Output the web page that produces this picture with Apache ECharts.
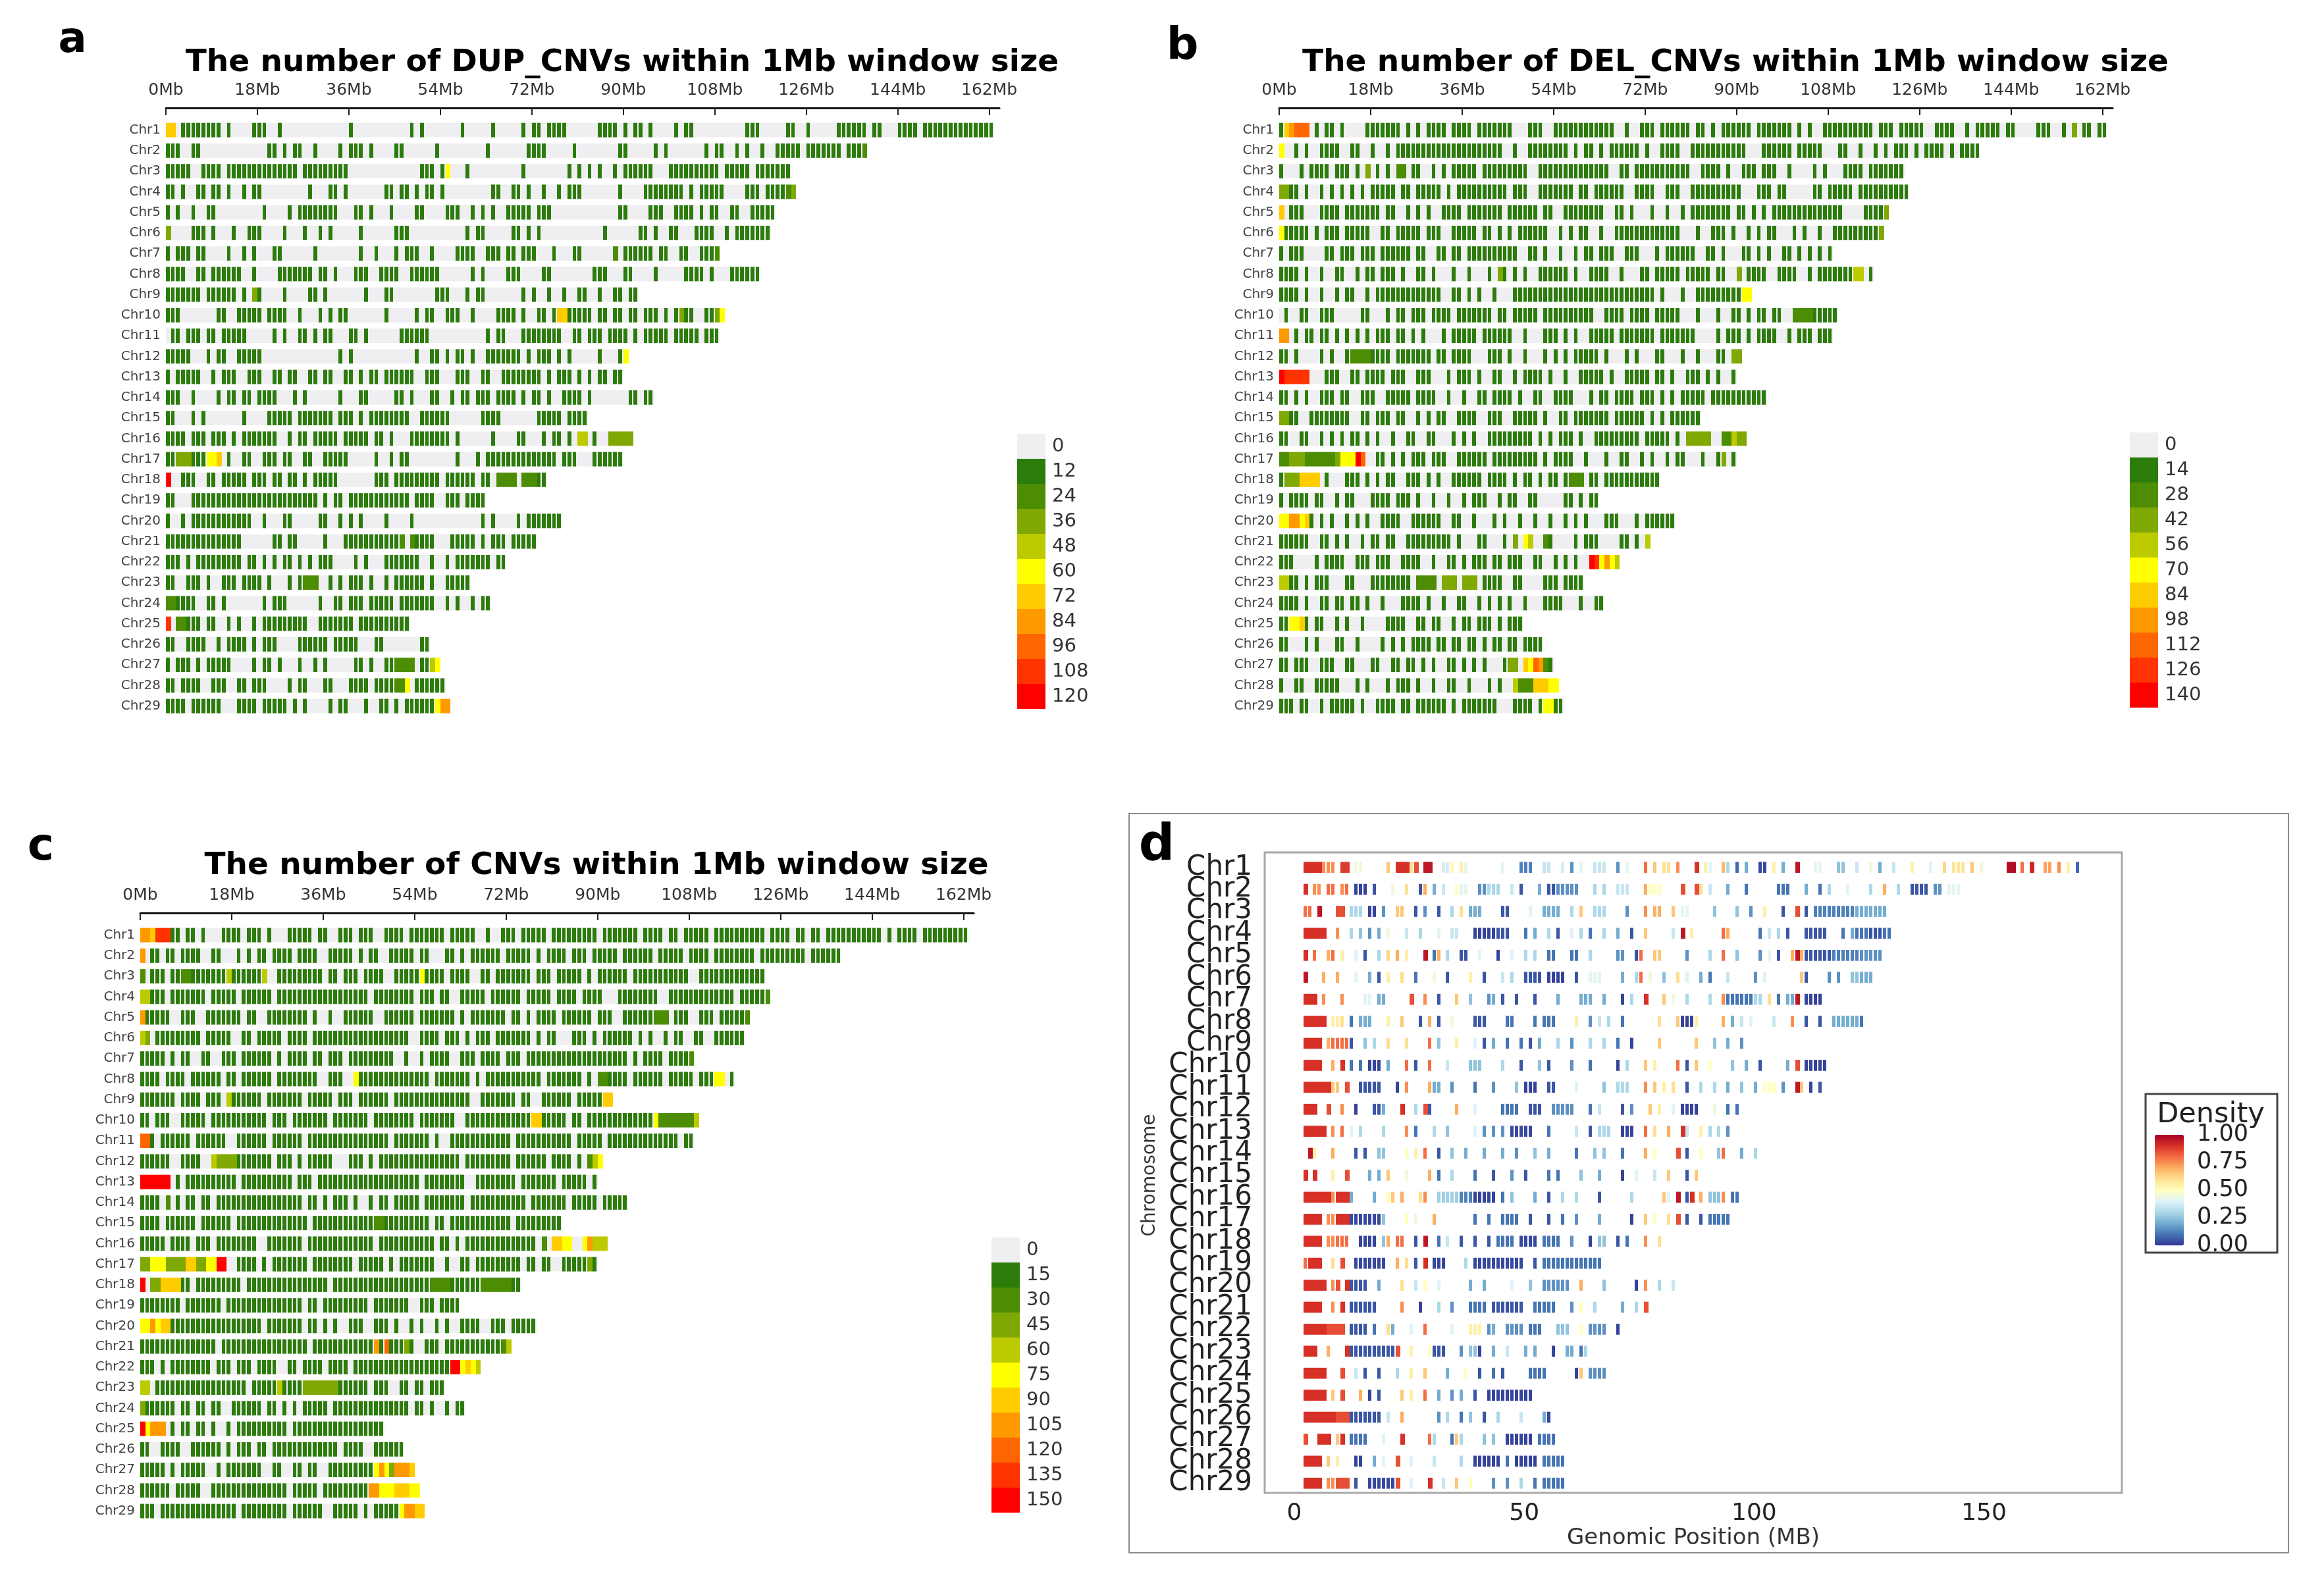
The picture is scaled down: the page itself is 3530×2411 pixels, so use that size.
<!DOCTYPE html>
<html>
<head>
<meta charset="utf-8">
<title>CNV density</title>
<script src="https://cdn.jsdelivr.net/npm/echarts@6/dist/echarts.min.js"></script>
<style>
html,body{margin:0;padding:0;background:#fff;}
#chart{width:3530px;height:2411px;}
</style>
</head>
<body>
<div id="chart"></div>
<script>
var chrNames = [];
for (var n = 1; n <= 29; n++) chrNames.push('Chr' + n);
var chrLengths = [163,138,123,124,120,119,109,117,93,110,109,91,90,96,83,92,90,75,63,78,73,67,60,64,48,52,54,55,56];
var mbTicks = [0,18,36,54,72,90,108,126,144,162];
var genomeTicks = [0,50,100,150];
var greenRamp = ['#2c7c0c','#4c8d04','#7fa802','#bccb00','#ffff00','#ffcc00','#ff9900','#ff6600','#ff3300','#ff0000'];
var densityRamp = ['#313695','#4575b4','#74add1','#abd9e9','#e0f3f8','#ffffbf','#fee090','#fdae61','#f46d43','#d73027','#a50026'];

// windows with CNVs per chromosome: "from-to:level", level is the colour class, 1 when left out
var dupCells = [
"0-1:6 3 4 5-9 10 12 17 18 19 22 36 48 50 58 64 70 72-73 75 76-78 85 86 87-88 90 92-93 95 100 102 103 114-115 116 122 123 126 132-133 134 135-137 139-140 144 145 146 147 149 150-151 152 153 154 155-159 160-161 162",
"0 1-2 5-6 20-21 23 25-26 29 34 36 37-38 40 45-46 53 63 71-74 80 89-90 96 98 106 108-109 112 114 117 120-124 126-128 129-130 131 132 134 135 136 137:2",
"0 1 2 3-4 7-10 12-25 27-35 50-52 54 55:5 59 70 79 81 83 85 88 90-92 93-95 99-101 102-104 105-108 110-113 114 116 117-118 119-120 121-122",
"0-1 3 6-7 9-10 12 15 17-18 28 32-33 35 43 44 46 47 49 51-52 54 64 65 68-69 71 74 77 79-80 81 89 94-99 100-101 103 105-109 114 115 116 118 119 120 121 122:2 123:3",
"0 2 5 8 9 19 24 26-33 37 38 40 44 49 50 55-57 60 62 64 67-71 73-75 89 90 95-97 100-101 102-103 105 107-108 111-112 115 116-117 118 119",
"0:3 5 6-7 9 13 16-18 23 27 30 32 38 45-47 59 61-62 68 69 71 73 86 93 94 96 99 100 104 105 106 107 110 112 113-116 117 118",
"0 2-4 6 7 12 15 17 21 22 29 38 41 45 47-49 52 57-60 63-65 67 68 70-72 76 80 81 88:2 90-95 97 98 101 102 105-107 108:2",
"0-3 6-7 9-11 12 13-14 17 22 23 24 25-28 30-31 33 37-38 39 42-45 48-50 51-53 60 62 67 68 69 74 75 84 85 86 90-91 96 102-104 105 107 111-112 113-115 116",
"0-1 2-5 6 8-11 12 13 15 17:3 18 23 28-29 31 39 43-44 53 54 55 59 61-62 70 72 75 78 81-82 85 88-89 91 92",
"0-1 2 10 11 14 15-18 20-22 23 26 30 32 34-35 43 49 51-52 55-57 60 65-67 68 70 73 74 76 77-78:6 79-83 85-86 88-89 91-92 94-96 98 100 101:3 102-103 106-107 108:3 109:5",
"1-2 4 5-6 8-9 11-13 14-15 21 23 26-27 29 31-32 36 37 39 46-48 49-51 63 65 66 70-77 80-81 83-85 87-90 92 94-98 100-104 106 107-108",
"0-2 3 4 8 10-11 14 15-18 34 36 49 52-53 55 57-58 60 63 64 65 66-69 71 73-75 77 79 85 89 90:5",
"0 2-6 9 11 12-13 16-18 21-22 24 25 28 29 31-32 35 36 38 40-41 43-45 46 47 48 51-53 57-59 62-63 66-73 75 77 78-79 81 83 85 86 88 89",
"0-2 5 10 12-13 15-16 18 19 20 21 25 27 34 38-39 45 46 48 52 53 56 58-59 61-63 65-66 67 68 70 72-73 75 78-81 83 91-92 94 95",
"0-1 5 7 15 20 21-24 26-32 34-35 36 38 40-44 45-47 50-53 54-55 62-65 73-77 79-82",
"0-3 5-7 9-11 13 15-16 17-21 24 26-27 29-31 32-33 35-39 41 42 44 48-55 57 64 69 70 74 76-77 79 81-82:4 84 87-91:3",
"0 1 2-4:3 5-7 8-9:5 10:6 12 15-16 19 20-21 23 24 27 28 31 32 33 34 35 41 44 46 47 57 61 63 64 65 66-74 75-76 78-80 84-89",
"0:10 3-4 5 8-9 11 12-15 17 18 19 21-22 24 25 27 29-32 33 41-43 45 46-53 55-60 62-63 65-68:2 70-72:2 73-74",
"0 1 5-16 17-29 31 33-34 36-45 46-47 49 50 51 52 55-57 59-60 61-62",
"0 3 5-16 19 23 24 30-31 34 36 38 43 48 62 64 69 71-77",
"0-5 6-7 8-9 10 11 12-14 21 22 24-25 31 35-37 38-45 46:2 48:2 49-52 56-59 60 62 64-66 68 69-72",
"0-2 4 6-13 14 16 17 19 21 23 24 26 28 30 31 32 37 39 43-49 52 55 57-63 65 66",
"0 1 4-6 8 11-13 15-18 20 24 26 27-29:2 32 34 36-38 40 43 45 46-48 49 50 52 55-56 57-59",
"0-1:2 2-5 8 9 11 19 21-23 30 33 34 36-37 38 40-44 46-49 50-52 55 57 60 62 63",
"0:9 2-3:2 4-6 8 9 12 14 17 19-24 25-27 30-35 36 38-40 41-47",
"0-1 4 5-7 10 12-15 17 19 20-21 26-31 33-37 41 42 50 51",
"0 2 3 4 6 8-9 10 11 12 17 19-20 22 26 29 31 37-38 40 43-44 45-48:2 50-51 52:4 53:5",
"0 1 3-5 6 9 10-11 14 15 17-19 24 26 27 31-32 36-39 41-44 45-46:2 47:5 49-52 53 54",
"0-2 3 5-10 14-17 19-20 21-23 25 27 32 34-35 39 42-43 45 47 48 49-52 53:5 54-55:7"
];
var delCells = [
"0 1:6 2:7 3-5:8 7 9 10 12 17-23 25 27 29-32 34-37 39 40-45 49-50 51 54-60 61-65 68 71-73 75-80 82 83 85 87-92 94-100 102 104 107-110 111-116 118-120 122 123 124-126 129 130 131-132 135 137-138 139 140-141 143-144 149-150 151 154 156:3 158-159 161 162",
"0:5 3 5 8-11 14-15 18 21 23-24 25-28 29-34 35-43 46 49-56 58 60-61 63 65-70 72 75-78 81-91 95-100 102-106 110-111 114 117 119 121 122 123 125 127 128 129-130 132 134 135 136-137",
"0 4 6 7-9 11-13 15 17:3 19 21 23-24:2 26 27 30 32 34-38 40-47 48 51-64 67-68 70-73 74-80 83-86 88 91-93 95-97 100 105 107 111-114 116-122",
"0-1:3 2-3 5 8 10 12 14 16 18-20 21-22 24-25 27-31 33 35-44 46-48 51-57 59-60 62-66 67 70-73 76-78 81-90 94-96 98 99 105 106 108-111 112 114-123",
"0:6 2-4 8-9 10-11 13-19 21 22 25 27 29 32-35 37-39 40-43 45-50 52 53 56-61 62 63 66-67 69 73 76 79 81-88 90-91 93 95 97-104 105-109 110 115 116-118 119:3",
"0:5 1-2 3-5 7 9-11 13 14-17 20 21 23-27 29-31 34-37 38 40-41 43 45 47-49 50-52 55 57 59-60 63 66-69 70-77 78 82 85-87 89 92 94 96 97 101 103 106 109-112 113-117 118:3",
"0 2 3 4 9 10 12-14 16-18 20-25 27 28 31-32 34-35 37-39 40-46 49-50 52 55 58 60-61 63-65 68-70 74 76-81 84-85 87 91 92 94 96 99-100 102 104 106 108",
"0-3 5 8 11 12 15 17-18 20-22 24 27 28 30 34 37 41 43:3 44 46 48 51-56 58 61-64 67 71-72 74-78 80-84 86 87 90:3 92-95 98-101 104 106-112 113-114:4 116",
"0-3 5 8 11 13-14 17 19-31 34-35 37 39 42 46-53 54-58 59-66 67-73 75 79 82-90 91-92:5",
"1 4-5 8-10 16 17 21 23-24 26-28 30-33 35-39 40-41 43-44 46-50 52 53 54-61 64-67 69-72 74-78 82 86 89-90 92 94 95 97-98 101-104:2 105-108 109",
"0-1:7 3 5 6 8-9 11 13 15 17 19-21 23-24 26 28 32 34 35-38 40-45 48 52-54 56 58 61-65 67-73 75-79 80 81 86 88-90 92 94-97 100 102-104 106-108",
"0-1 3 8 10 13 14-17:2 18-21 23-29 31-32 34-37 41 42 43 45 48 52 54 56 58 59-62 64 68 70 74-75 79 82 86-87 89-90:3",
"0:10 1-5:9 9 10 11 14-15 17-19 20 22 23 24 27-29 33 35-37 39 42 43 46 48-51 53 56 59-62 63 65 68-72 74 75 77 80 81 82 84 86 89",
"0 1 3 5 8-10 12 13 16 17 18 21-25 27-30 33 36 39-40 42-45 47 50-51 54-57 61 63-64 66-69 71 72 73 75 77 79-83 85-90 91-95",
"0-1:3 2-3 6-13 16-17 19-21 23 24 27 29 31 32 35-37 38 41-43 46-50 52 55 56 58-64 66-71 73 75 77-82",
"0-1 4 5 8 10 12 14-15 17 19 22 25-26 29 30 34 36 38 41-49 51 53 55-57 59 62-70 72-76 78 80-84:3 87-88:2 89:4 90:3 91:3",
"0-1:2 2-4:3 5-10:2 11:3 12-14:5 15:10 16:8 19-20 22 24 26 27-28 30-31 32 35-40 42-46 47-48 49-50 52 54-57 60 64 67 68 71 73 76 78 79 83 86 87:3 89",
"0 1-3:3 4-7:6 9 13-14 15 17 19 21 22 25 26 27 29 31 34-39 41-44 46 48 49 51 53 54 56 57-59:2 61 62 64-73 74",
"0 2-5 7-8 11 13 14 18-21 23-25 27 30 33 36 38-40 43 45-46 49 50 56 57 59 61-62",
"0-1:5 2-3:7 4:5 5:6 6 8 10 13 15 17 20-21 22-23 26 27-31 34 35 38 42 44 47 50 53 56 58 60 64 65-66 70 72 73-77",
"0-3 4-5 8 9 11 13 16 18-19 21-22 25-33 35 39 40 44 46:3 48:5 49:4 52:2 53 58 60-62 67 68 70 72:4",
"0 1 2 7 9-11 12 15-16 17 19 20 21 24-27 30 33-34 36 38-40 42-43 45-47 50-51 54 56 58 61:10 62:9 63:5 64:7 65:5 66:4",
"0:4 1:4 2-3 5 7-9 13-14 18-20 21-25 27-30:2 32-34:3 36-38:3 40-43 46-47 52 53 54 56-59",
"0-3 5 8 9 11-12 14-15 17 20 24-26 27 29 32 35-36 39 41 43 45 48 52 53 54 55 59 62-63",
"0-1 2-3:5 4:6 5 7 8 11 13 16 21-24 27 28 30 31 34 36-37 39-41 43 45-47",
"0-1 5 7 11-12 15 20 22 24 26-29 31-32 34 35 37-38 40 42 43 45-46 48-51",
"0 1 3 4 5 8-9 10 13 14 18-19 22 23 25-26 28 30 33-34 36 38 40 44 45-46:3 48:6 49:5 50:8 51:7 52:2 53",
"0 3 4 7 8-10 11 15 17 21 23-24 25 27 30 33-34 37 41 43 46:4 47-49:2 50-52:6 53-54:5",
"0-2 4-5 8 10 11-14 16 19-22 24 25 27-32 34 36-42 46-49 51 52-53:5 54-55"
];
var cnvCells = [
"0-1:7 2:6 3-5:9 6-7 9-10 12 16-19 21-23 25 29-33 35-36 39-41 43-45 48-51 53-59 61-65 68 71-73 75-79 81-85 86-89 91-93 94-97 99-102 104-105 107-111 113-117 118-122 124-127 129-130 132-133 135-138 139-142 143-144 145 147 149-152 154 155-159 160-162",
"0:7 2-3 5 6 8-11 14-15 19 21 23-24 26-29 31-34 37-41 43 45-46 49-53 55-56 60-61 63 65-70 72-76 78 80-83 85-87 89-93 95-100 102-106 108-111 113-115 116-120 122-125 126-130 132-137",
"0:2 2-4 6-7 8-9:2 10-16 17:4 18-23 24:4 27-35 37 38 40-42 44-47 50-54 55:5 56-59 61-64 67-68 70 71-76 78-80 82-86 88 90-95 97-101 102-107 110-113 114-122",
"0-1:4 2-4 6-10 11-12 14 15-16 17-18 20-22 23-25 27-34 35-44 46-53 55-57 59-60 63-67 69-74 76-80 82-85 87-90 94-99 100-101 104-111 112-116 118-122 123:2",
"0:7 1-5 8-9 10 13-19 21 22 25-32 34 37 40-42 43-45 48-52 53 55-61 63 65-71 73-74 76 78 79-81 83-88 90-92 95-100 101-103:2 105-107 110-112 114-118 119:2",
"0:4 1:3 3-5 6-8 9-11 13-17 20 21 23-27 29-32 34-41 42-52 55-58 60-62 64 66-68 70-76 78 80 81 85-87 89 91-95 96 98 100 103 105-106 109 110 113-118",
"0-1 2-4 6 8-9 12-13 16-18 20-25 27 29-32 34-35 37-39 41-49 52 55 57-60 63-65 67-70 72-74 76-83 84-86 87-95 97 99-102 104 105-107 108:2",
"0-3 5-8 10-15 17 18 20-25 27-32 33-34 37-38 39 42:5 43-45 46-47 48-55 56 58 59-64 66 68-73 74-78 80-86 88 90-91:2 92-95 97-102 104-108 110-112 113-114:5 116",
"0-6 8 9-11 13-15 17:4 18-23 25-31 33-37 39-41 43-48 50-56 57-64 67-73 75 76 79-84 86-90 91-92:6",
"0-1 3 4 5 8-12 14-19 20-24 26-28 30-36 38-44 46-50 51-53 55-58 59-61 64-76 77-78:6 79-83 85-86 88-93 94-100 101:5 102-108:2 109:4",
"0-1:8 2 4-9 11-16 19-21 22-24 26-31 33-39 40-48 50-56 58 61-72 74-84 86-90 92-93 94-104 105 107-108",
"0-5 8-11 14:4 15-18:3 19-25 27-29 31 33-37 41-43 45 47-50 51-62 64-72 74-79 81-84 86 88:2 89:4 90:5",
"0-5:10 7 9-18 20-27 28-29 31-33 35-42 43-54 56-63 66-73 75-81 83-87 89",
"0-3 5:2 7 9-10 12-13 15-25 26-31 33 34 36 38-40 42 45 47 48 50-54 56-63 65-74 75 77-83 85-89 91-95",
"0-3 5-10 12-17 19-32 34-45 46-47:2 48-53 54-56 58 59 61-72 74-82",
"0-4 6-9 11-13 15-22 25-31 33-45 47-57 59-60 62 64-77 79:2 81-82:6 83-84:5 87:5 88:7 89:4 90-91:4",
"0-1:3 2-4:5 5-8:3 9-10:6 11-12:3 13-14:5 15-16:10 19-22 24 26-30 31-32 34-40 41 43-47 49 51-52 53-57 60 63 64 66-74 76-77 79-80 83-87 88:3 89",
"0:10 2-3:3 4-7:6 8-9 11 12-19 21-33 34-36 38-56 57-60:2 61-66 67-72:2 73-74",
"0-7 9-15 17-31 33-34 36-44 46-52 55-57 59-60 61-62",
"0-1:5 2:7 3:5 4-5:6 6-17 18-21 22-23 25-31 33-34 36 38 41-43 46-48 50 53 55 58 60 63-66 69-71 73-77",
"0-14 16-32 34 35-45 46:7 47 48:8 49-51 52:3 53 56-58 60-70 71:2 72:4",
"0-2 4 6-13 15-17 19 20 21 23-26 29 30 32-35 37-40 42-53 54-60 61-62:10 63:5 64:6 65:5 66:4",
"0-1:4 3-20 22-26 27:4 28-31 32-35:3 36-38:3 39-44 46-48 51-52 54-55 57-59",
"0:3 1-6 8-9 11-12 14-15 18-23 25-26 28 30 32-36 38-45 46-52 54-55 57 60 62-63",
"0:10 1:5 2-4:7 6 8-9 11 12 14 17 19-28 30-47",
"0-1 4 5-7 10-15 17 19 20-21 23 24 26-38 40-43 46-47 48-51",
"0-4 6 8-9 10-12 15 17 18-23 26-27 30-31 33-34 37-42 43-45 46:5 47:7 48:5 49:3 50-51:7 52:7 53:6",
"0-5 7-11 14-28 30-34 36-44 45-46:7 47-49:5 50-51:6 52:6 53-54:5",
"0-2 4-18 20-28 30-35 38-42 44 46-50 51:5 52-53:7 54-55:6"
];
// density per MB window: "from-to:density"
var densityCells = [
"2-5:.9 6-8:.75 10-11:.88 13-14:.45 20:.65 22-24:.9 25:.6 26:.85 28-29:.95 32-33:.38 34:.52 36:.55 37:.42 45:.42 49-51:.12 54-55:.35 58:.38 60:.15 62:.42 65-67:.35 70:.15 72:.42 76:.8 78:.65 80-81:.6 83:.75 87:.9 89:.55 90:.4 93:.68 94:.3 96:.08 98:.2 101-102:.03 104:.55 106:.2 109:.95 113-114:.42 118-119:.25 122:.35 125:.45 127:.2 130:.35 134:.55 138:.4 141:.62 143-145:.58 147:.65 149:.45 155-156:.97 158:.8 160:.92 163-164:.72 166:.75 168:.55 170:.08",
"2:.9 4-5:.75 7-8:.8 10:.75 11:.8 13-15:.02 17:.05 21:.45 24:.6 27:.05 28:.7 30:.2 32:.35 35:.5 36-37:.42 40-41:.15 42-44:.3 47:.35 49:.05 53:.2 55-56:.05 57-61:.15 65:.3 67:.3 70-72:.35 76:.7 77-79:.5 84:.85 87:.85 88:.6 90:.35 94:.2 98:.1 105-107:.1 111:.2 114:.1 116:.3 120:.4 125:.3 128:.7 131:.3 134-137:.05 139-140:.15 142-144:.42",
"2:.8 3:.8 5:.95 9-10:.85 12-14:.3 16-17:.02 19:.15 22-23:.65 26:.05 28:.15 31:.05 34:.3 36:.6 38-40:.2 45-46:.05 51:.4 54-57:.2 60:.3 62:.65 65-67:.3 72:.15 76:.75 78-79:.7 82:.65 84-85:.42 91:.25 96:.25 99:.15 102:.55 106:.05 109:.85 111:.05 113-121:.12 122-128:.2",
"2-4:.9 5-6:.9 9:.75 12:.3 14:.25 16:.15 18:.2 20:.45 24:.35 27:.3 31:.42 34-35:.35 39-43:.02 44-46:.05 50:.1 52:.2 55:.3 57:.05 60:.4 62:.3 64:.1 67:.3 70:.2 73:.05 76:.65 82:.35 84:.95 86:.55 93:.8 94:.7 101:.1 103:.35 105:.3 107:.05 111-115:.05 119:.1 121:.2 122-124:.1 125-127:.05 128-129:.1",
"2:.9 4:.8 7:.7 8:.8 10:.55 13:.4 15:.05 18:.3 20:.62 22:.7 24:.55 28:.95 30:.1 31:.7 33:.3 36-37:.05 40:.42 44:.02 47:.4 50:.3 52:.3 55-56:.1 60-61:.1 64:.3 70-71:.15 74:.05 75:.8 78-79:.65 85:.15 90:.3 93:.8 96:.25 101:.15 103:.42 105:.05 108:.7 109:.95 110:.7 111-116:.05 117-122:.12 123-127:.15",
"2:.95 6:.7 9:.7 13:.42 16:.2 18:.05 20:.55 23:.6 26:.1 30:.45 33:.05 38:.55 41:.05 45:.35 47:.3 50-53:.05 55-58:.02 61:.05 64-66:.42 71:.2 74:.3 75:.8 77:.45 80:.25 83:.6 85:.4 88:.2 90:.1 94:.35 100:.15 102:.4 110:.65 111:.05 116:.15 118:.15 121-122:.25 123-125:.2",
"2-4:.9 6:.75 10:.75 15:.4 16:.4 18-19:.2 25:.85 28:.75 31:.05 35:.65 38:.25 42:.15 43:.2 45:.05 48:.05 52:.05 57:.2 62-64:.2 67:.2 71:.02 73:.3 76:.9 80:.65 82:.45 85:.3 90:.3 93:.75 94-99:.1 100-101:.3 103:.6 105:.1 107-108:.2 109:.95 111-114:.02",
"2-6:.9 8-9:.55 10:.6 12:.1 14-16:.2 20:.55 23:.65 27:.05 29:.7 31:.05 34:.45 39-41:.05 46-47:.1 52:.1 54-56:.1 61:.55 64:.15 66:.35 68:.3 71:.1 79:.6 83:.65 84-86:.02 87:.55 93:.7 95:.2 97:.35 99:.4 104:.35 108:.75 111:.05 114:.05 117-122:.2 123:.1",
"2-5:.9 7:.7 8-11:.8 12:.05 15:.25 17:.3 20:.6 24:.6 29:.8 31:.25 35:.55 39:.4 41:.05 43:.2 46:.1 49:.1 51:.05 53:.2 57:.3 60:.15 64:.3 67:.3 70:.1 73:.02 79:.65 87:.65 91:.25 94:.2 97:.15",
"2-5:.9 8:.7 10:.9 12:.1 14:.1 16-18:.02 20:.2 24:.8 26:.05 29:.8 33:.35 38-40:.25 45:.3 49:.05 53:.25 55:.05 60:.15 64:.1 70:.02 72:.3 76:.65 78:.55 83:.8 85:.05 87:.65 90:.5 95:.25 98:.2 101:.05 107:.2 109:.85 111-115:.02",
"2-7:.9 8-9:.65 11:.85 14-18:.05 22:.02 24:.75 29:.7 30-31:.2 34:.15 39:.1 43:.15 48:.25 50-52:.02 55-56:.05 61:.4 67:.25 70-72:.3 76:.75 78:.65 80:.55 82:.6 85:.05 88:.3 91:.3 94:.2 97:.25 100:.2 102-104:.5 106:.15 109:.95 110:.65 112:.02 114:.05",
"2-4:.9 7:.85 10:.75 13:.02 17-18:.05 19:.2 23:.9 26:.3 28:.85 29:.05 35:.7 39:.4 45-48:.1 51-53:.05 56-60:.15 64:.1 66:.35 71:.05 73:.15 77:.65 79:.55 82:.4 84-87:.02 91:.45 94:.1 96:.1",
"2-6:.9 8:.75 10:.8 12:.4 14:.3 19:.3 24:.75 26:.1 30:.3 33:.25 39:.4 41:.15 43:.15 45:.15 47-51:.03 55:.1 61:.35 64:.05 66-68:.3 71-73:.02 76:.8 78:.6 81:.7 84:.9 85:.35 88:.55 90:.3 92:.3 94:.15",
"3:.95 4:.55 8:.7 13:.05 15:.05 18-19:.25 24:.5 26:.55 28:.8 31:.05 34:.25 37:.2 41:.2 45:.2 48:.15 52:.25 55:.2 61:.1 65:.25 67:.25 71:.1 76:.7 78:.5 83:.85 85:.05 88:.5 92:.25 93:.8 97:.2 100:.3",
"2:.9 4:.9 8:.55 11:.85 16:.2 18:.2 20:.65 24:.45 29:.7 31:.1 34:.3 39:.1 43:.05 47:.15 50:.05 55:.1 57:.1 62:.25 66:.2 71:.02 74:.4 78:.35 81:.65 85:.05 87:.65",
"2-7:.9 8:.75 9-11:.9 12:.2 17:.2 20:.5 21:.65 23:.7 27:.6 28:.75 31-35:.28 36-38:.12 39-43:.02 45:.1 47:.25 52:.2 55:.05 58:.3 61:.3 66:.05 73:.3 80:.65 81:.4 83:.95 85:.05 86:.9 88:.7 90-92:.25 93:.75 95-96:.1",
"2-5:.9 7-8:.75 9-11:.9 12-18:.03 19:.25 24:.5 26:.45 30:.7 39:.1 42:.1 45-48:.1 51:.05 55:.05 58:.1 61:.15 66:.2 73:.02 76:.65 78:.5 81:.6 83:.85 85:.05 88:.05 90-94:.1",
"2-5:.9 7-8:.75 9-11:.8 14-17:.02 19:.25 20:.7 22-23:.8 26:.05 28:.95 31:.1 33:.35 36:.05 39:.05 42:.05 44-47:.1 49-52:.03 54-57:.1 60:.15 64:.02 66-67:.25 70:.05 72:.1 76:.75 79:.6",
"2:.8 3-5:.9 8:.6 10:.85 13-19:.03 22:.7 24:.6 26:.05 28:.9 30-32:.02 37:.3 39-49:.03 52:.05 54-66:.1",
"2-6:.9 8:.75 9:.85 11:.9 12-15:.05 18:.2 23:.6 26:.35 28:.5 31:.4 38:.2 41:.2 47:.4 51:.25 54-59:.15 62:.7 67:.25 74:.02 76:.75 79:.3 82:.35",
"2-5:.9 8:.75 10:.9 12-17:.05 23:.75 27:.02 31:.3 34:.15 38-41:.1 43-49:.05 52-56:.1 60:.15 62:.5 65:.3 71:.2 74:.3 76:.85",
"2-6:.9 7-10:.85 12-15:.05 17:.1 20:.6 21:.2 25:.4 28:.8 34:.4 38-40:.55 42:.15 43:.2 46-49:.15 51-53:.1 57-59:.25 62:.5 64-67:.15 70:.02",
"2-4:.9 7:.7 11:.9 12-21:.05 22:.85 25:.55 29:.5 30-32:.05 36:.15 38-39:.25 40:.02 43:.2 46:.35 50:.2 52:.2 56:.02 59-60:.2 62:.1 63:.3",
"2-6:.9 10:.85 13:.35 15:.05 18:.05 22:.3 25:.55 28:.65 33:.2 37:.5 40:.05 43:.1 45:.05 51-54:.1 61:.02 62:.65 64-67:.15",
"2-6:.9 8:.65 10:.85 14:.7 16:.02 18:.05 23:.65 25:.55 28:.8 31:.2 34:.15 36:.2 39:.05 42-51:.02",
"2-8:.9 9-11:.85 12-18:.05 20:.35 23:.7 31:.15 33:.3 36:.1 38:.25 41:.05 44:.3 49:.35 54:.2 55:.02",
"2:.85 5-7:.9 9:.65 10:.9 12-15:.1 19:.4 23:.9 29:.8 30:.3 34:.1 35:.65 36:.3 41:.25 43:.25 46-51:.02 53-56:.1",
"2-5:.9 7:.65 9:.55 13-14:.02 17:.2 19:.4 22:.85 25:.4 30:.35 36:.3 39-44:.02 46:.1 48-52:.02 54-58:.1",
"2-5:.9 7-8:.75 9-11:.85 13:.05 16-21:.03 22:.85 25:.4 29:.9 32:.35 35:.65 38:.5 43:.15 46:.15 49:.3 52:.1 54-58:.1"
];

var MB_WIDTH = 7.72;
var ROW_STEP = 31.25;
// value up to which a window is drawn as a thin line in each panel
var thinBelow = [12, 14, 15, 0.84];

function parseCells(str) {
    var out = [];
    str.split(' ').forEach(function (tok) {
        var parts = tok.split(':');
        var range = parts[0].split('-');
        var from = +range[0];
        var to = range.length > 1 ? +range[1] : from;
        var v = parts.length > 1 ? +parts[1] : 1;
        for (var i = from; i <= to; i++) out.push([i, v]);
    });
    return out;
}

// every window of a chromosome, 0 when it has no CNV
function buildCounts(rows, step) {
    var data = [];
    rows.forEach(function (str, row) {
        var vals = [];
        for (var i = 0; i < chrLengths[row]; i++) vals.push(0);
        parseCells(str).forEach(function (c) {
            if (c[0] < vals.length) vals[c[0]] = c[1] * step;
        });
        vals.forEach(function (v, i) { data.push([i, row, v]); });
    });
    return data;
}

function buildDensity(rows) {
    var data = [];
    rows.forEach(function (str, row) {
        parseCells(str).forEach(function (c) { data.push([c[0], row, c[1]]); });
    });
    return data;
}

function renderCell(params, api) {
    var a = api.coord([api.value(0), api.value(1)]);
    var b = api.coord([api.value(0) + 1, api.value(1)]);
    var val = api.value(2);
    var ratio = params.seriesIndex === 3 ? 0.5 : 0.7;
    var h = api.size([0, 1])[1] * ratio;
    var x0 = Math.round(a[0]), x1 = Math.round(b[0]);
    var fill = api.visual('color');
    var base = {
        type: 'rect',
        shape: {x: x0, y: a[1] - h / 2, width: x1 - x0, height: h},
        style: {fill: fill}
    };
    if (val === 0 || val > thinBelow[params.seriesIndex]) return base;
    var w = Math.max(2, Math.round((x1 - x0) * 0.75));
    var line = {
        type: 'rect',
        shape: {x: x0, y: a[1] - h / 2, width: w, height: h},
        style: {fill: fill}
    };
    if (params.seriesIndex === 3) return line;
    // grey of the chromosome stays visible in the rest of the window
    base.style = {fill: '#efeff1'};
    return {type: 'group', children: [base, line]};
}

function greenPieces(step) {
    var p = [{value: 0, label: '0', color: '#efeff1'}];
    greenRamp.forEach(function (c, i) {
        p.push({gt: step * i, lte: step * (i + 1), label: String(step * (i + 1)), color: c});
    });
    return p;
}

function countXAxis(grid) {
    return {
        type: 'value', gridIndex: grid, position: 'top', min: 0, max: 164, offset: 18,
        splitLine: {show: false},
        axisLine: {show: true, lineStyle: {color: '#111', width: 3}},
        axisTick: {show: true, inside: true, length: 11, lineStyle: {color: '#222', width: 2}, customValues: mbTicks},
        axisLabel: {fontFamily: 'DejaVu Sans', fontSize: 25, color: '#333', margin: 14, customValues: mbTicks, formatter: '{value}Mb'}
    };
}

function countYAxis(grid) {
    return {
        type: 'category', gridIndex: grid, inverse: true, data: chrNames,
        axisLine: {show: false}, axisTick: {show: false}, splitLine: {show: false},
        axisLabel: {fontFamily: 'DejaVu Sans', fontSize: 20, color: '#444', margin: 8, interval: 0}
    };
}

function countLegend(idx, left, top, step) {
    return {
        type: 'piecewise', seriesIndex: idx, dimension: 2, orient: 'vertical', inverse: true,
        left: left, top: top, padding: 0, itemWidth: 43, itemHeight: 38, itemGap: 0, textGap: 10,
        itemSymbol: 'rect', hoverLink: false, selectedMode: false, align: 'left',
        pieces: greenPieces(step),
        textStyle: {fontFamily: 'DejaVu Sans', fontSize: 29, color: '#333'}
    };
}

function headText(text, x, y, size) {
    return {
        text: text, left: x, top: y, textAlign: 'center', textVerticalAlign: 'middle', padding: 0,
        textStyle: {fontFamily: 'DejaVu Sans', fontWeight: 'bold', fontSize: size, color: '#000'}
    };
}

var option = {
    animation: false,
    backgroundColor: '#fff',
    title: [
        headText('The number of DUP_CNVs within 1Mb window size', 945, 96, 47),
        headText('The number of DEL_CNVs within 1Mb window size', 2636, 96, 47),
        headText('The number of CNVs within 1Mb window size', 906, 1316, 47),
        headText('a', 110, 62, 64),
        headText('b', 1796, 72, 68),
        headText('c', 62, 1288, 68),
        headText('d', 1757, 1286, 76),
        {text: 'Density', left: 3358, top: 1694, textAlign: 'center', textVerticalAlign: 'middle', padding: 0,
            textStyle: {fontFamily: 'DejaVu Sans', fontWeight: 'normal', fontSize: 43, color: '#222'}}
    ],
    grid: [
        {left: 252, top: 182, width: 164 * MB_WIDTH, height: 29 * ROW_STEP},
        {left: 1943, top: 182, width: 164 * MB_WIDTH, height: 29 * ROW_STEP},
        {left: 213, top: 1405, width: 164 * MB_WIDTH, height: 29 * ROW_STEP},
        {left: 1921, top: 1301, width: 1302, height: 969},
        {left: 3317, top: 1724, width: 1, height: 168}
    ],
    xAxis: [
        countXAxis(0), countXAxis(1), countXAxis(2),
        {type: 'value', gridIndex: 3, min: -6.45, max: 180, splitLine: {show: false},
            axisLine: {show: false}, axisTick: {show: false},
            name: 'Genomic Position (MB)', nameLocation: 'middle', nameGap: 50,
            nameTextStyle: {fontFamily: 'DejaVu Sans', fontSize: 34, color: '#333'},
            axisLabel: {fontFamily: 'DejaVu Sans', fontSize: 36, color: '#222', margin: 12, customValues: genomeTicks}},
        {type: 'value', gridIndex: 4, show: false}
    ],
    yAxis: [
        countYAxis(0), countYAxis(1), countYAxis(2),
        {type: 'category', gridIndex: 3, inverse: true, data: chrNames,
            axisLine: {show: false}, axisTick: {show: false}, splitLine: {show: false},
            name: 'Chromosome', nameLocation: 'middle', nameGap: 160, nameRotate: 90,
            nameTextStyle: {fontFamily: 'DejaVu Sans', fontSize: 28, color: '#333'},
            axisLabel: {fontFamily: 'DejaVu Sans', fontSize: 42, color: '#222', margin: 19, interval: 0}},
        {type: 'value', gridIndex: 4, position: 'right', min: 0, max: 1, interval: 0.25,
            splitLine: {show: false}, axisLine: {show: false}, axisTick: {show: false},
            axisLabel: {fontFamily: 'DejaVu Sans', fontSize: 35, color: '#222', margin: 19,
                formatter: function (v) { return v.toFixed(2); }}}
    ],
    visualMap: [
        countLegend(0, 1545, 659, 12),
        countLegend(1, 3235, 657, 14),
        countLegend(2, 1506, 1880, 15),
        {type: 'continuous', seriesIndex: 3, dimension: 2, min: 0, max: 1, left: 3273, top: 1724,
            padding: 0, itemWidth: 44, itemHeight: 168, text: ['', ''], calculable: false, hoverLink: false,
            showLabel: false, inRange: {color: densityRamp}, textStyle: {fontSize: 1, color: 'transparent'}}
    ],
    series: [
        {type: 'custom', xAxisIndex: 0, yAxisIndex: 0, renderItem: renderCell, encode: {x: 0, y: 1}, data: buildCounts(dupCells, 12)},
        {type: 'custom', xAxisIndex: 1, yAxisIndex: 1, renderItem: renderCell, encode: {x: 0, y: 1}, data: buildCounts(delCells, 14)},
        {type: 'custom', xAxisIndex: 2, yAxisIndex: 2, renderItem: renderCell, encode: {x: 0, y: 1}, data: buildCounts(cnvCells, 15)},
        {type: 'custom', xAxisIndex: 3, yAxisIndex: 3, renderItem: renderCell, encode: {x: 0, y: 1}, data: buildDensity(densityCells)}
    ],
    graphic: [
        {type: 'rect', silent: true, z: 100, shape: {x: 1715, y: 1236, width: 1761, height: 1123},
            style: {fill: 'none', stroke: '#8a8a8a', lineWidth: 2}},
        {type: 'rect', silent: true, z: 100, shape: {x: 1921, y: 1295, width: 1302, height: 973},
            style: {fill: 'none', stroke: '#a8a8a8', lineWidth: 3}},
        {type: 'rect', silent: true, z: 100, shape: {x: 3259, y: 1662, width: 200, height: 241},
            style: {fill: 'none', stroke: '#444', lineWidth: 3}}
    ]
};

var myChart = echarts.init(document.getElementById('chart'));
myChart.setOption(option);
</script>
</body>
</html>
